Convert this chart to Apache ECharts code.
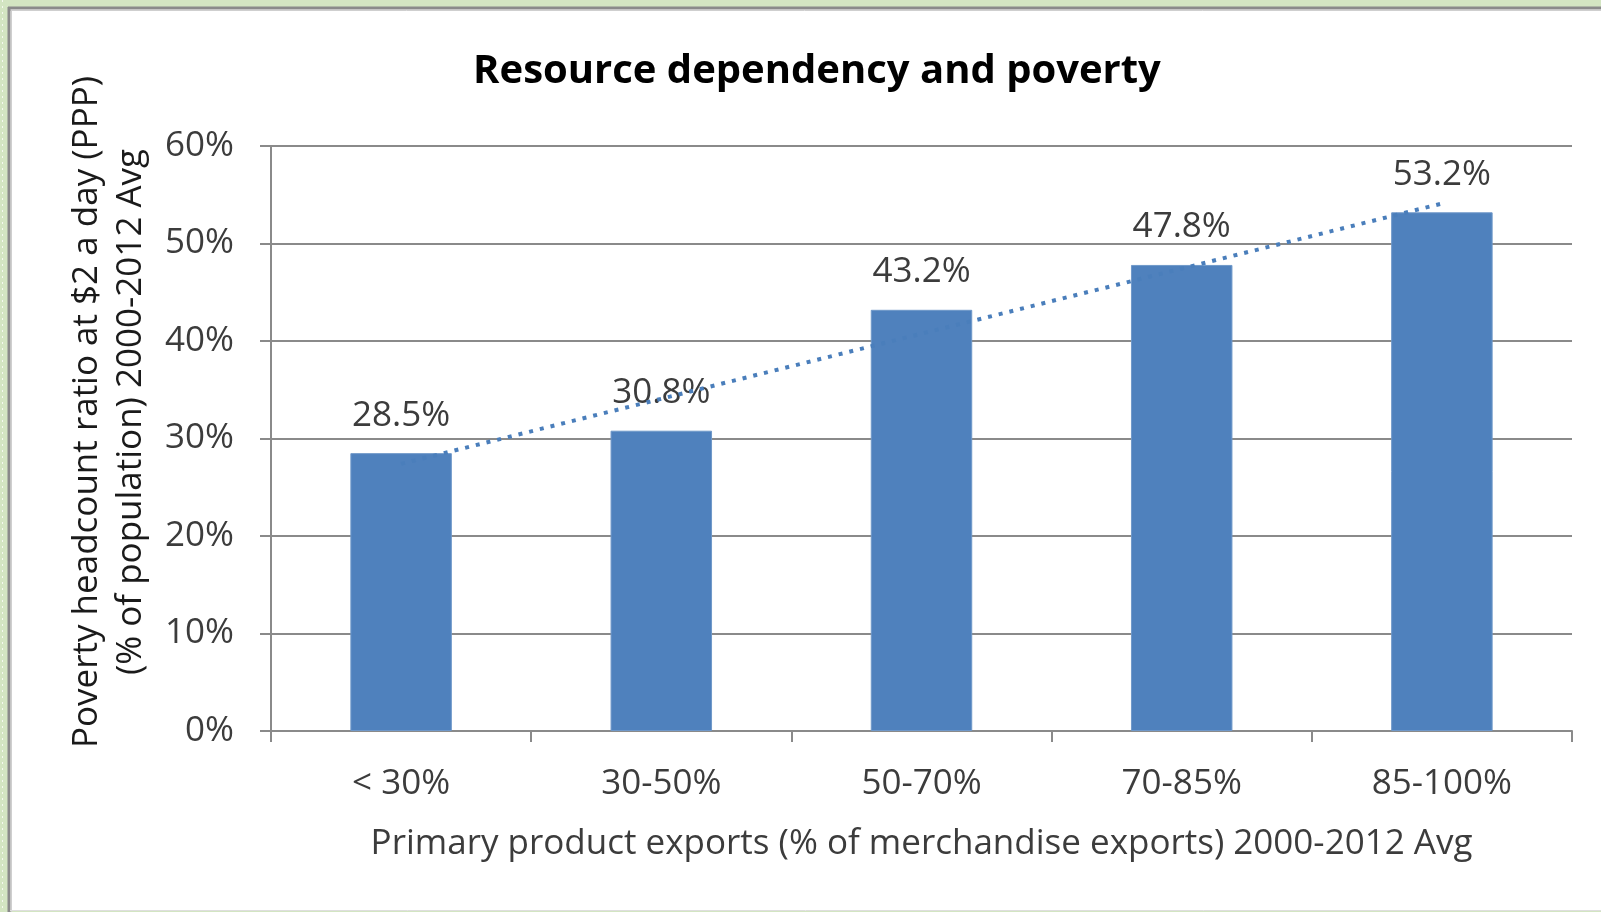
<!DOCTYPE html>
<html>
<head>
<meta charset="utf-8">
<title>Resource dependency and poverty</title>
<script src="https://cdn.jsdelivr.net/npm/echarts@6/dist/echarts.min.js"></script>
<style>
  html, body { margin: 0; padding: 0; background: #d3e5c2; }
  #chart { width: 1601px; height: 912px; }
</style>
</head>
<body>
<div id="chart"></div>
<script>
// Export-share groups and average poverty headcount per group
const categories = ['< 30%', '30-50%', '50-70%', '70-85%', '85-100%'];
const povertyShare = [28.5, 30.8, 43.2, 47.8, 53.2];
// Linear trend, value at the first and last group
const trendEnds = [27.4, 54.1];
// Value axis ticks (percent)
const yMin = 0, yMax = 60, yStep = 10;

const FONT = '"Open Sans", "Noto Sans", sans-serif';
const TEXT = '#3c3c3c';
const GRID = '#8a8a8a';

const trendData = categories.map((c, i) =>
  i === 0 ? trendEnds[0] : (i === categories.length - 1 ? trendEnds[1] : null));

const chart = echarts.init(document.getElementById('chart'));
chart.setOption({
  backgroundColor: '#d3e5c2',
  animation: false,
  title: {
    text: 'Resource dependency and poverty',
    left: 812,
    top: 47,
    textAlign: 'center',
    textStyle: { fontFamily: FONT, fontSize: 40, fontWeight: 'bold', color: '#000' }
  },
  graphic: [
    // white chart sheet with its frame
    { type: 'rect', z: -10, silent: true,
      shape: { x: 9, y: 7, width: 1700, height: 904 },
      style: { fill: '#ffffff' } },
    { type: 'line', z: -9, silent: true,
      shape: { x1: 8, y1: 8, x2: 1601, y2: 8 },
      style: { stroke: '#8a8a8a', lineWidth: 3 } },
    { type: 'line', z: -9, silent: true,
      shape: { x1: 8, y1: 10.5, x2: 1601, y2: 10.5 },
      style: { stroke: '#cfcfcf', lineWidth: 1 } },
    { type: 'line', z: -9, silent: true,
      shape: { x1: 9, y1: 7, x2: 9, y2: 912 },
      style: { stroke: '#8a8a8a', lineWidth: 3 } },
    { type: 'line', z: -9, silent: true,
      shape: { x1: 11.5, y1: 10, x2: 11.5, y2: 912 },
      style: { stroke: '#cfcfcf', lineWidth: 1 } },
    { type: 'line', z: -9, silent: true,
      shape: { x1: 10, y1: 910.5, x2: 1601, y2: 910.5 },
      style: { stroke: '#dedede', lineWidth: 1 } },
    { type: 'line', z: -9, silent: true,
      shape: { x1: 2.5, y1: 0, x2: 2.5, y2: 912 },
      style: { stroke: '#f4f9ef', lineWidth: 1, lineDash: [2, 4] } },
    // value axis title
    { type: 'text', z: 10, silent: true,
      x: 109, y: 412, rotation: Math.PI / 2,
      style: {
        text: 'Poverty headcount ratio at $2 a day (PPP)\n(% of population) 2000-2012 Avg',
        align: 'center', verticalAlign: 'middle',
        fontFamily: FONT, fontSize: 35, lineHeight: 44, fill: '#1a1a1a'
      } }
  ],
  grid: { left: 271, right: 29, top: 146, bottom: 181 },
  xAxis: {
    type: 'category',
    data: categories,
    axisLine: { lineStyle: { color: GRID, width: 2 } },
    axisTick: { show: true, alignWithLabel: false, length: 11, lineStyle: { color: GRID, width: 2 } },
    axisLabel: { color: TEXT, fontFamily: FONT, fontSize: 35, margin: 36 },
    name: 'Primary product exports (% of merchandise exports) 2000-2012 Avg',
    nameLocation: 'middle',
    nameGap: 96,
    nameTextStyle: { color: TEXT, fontFamily: FONT, fontSize: 35 }
  },
  yAxis: {
    type: 'value',
    min: yMin, max: yMax, interval: yStep,
    axisLine: { show: true, lineStyle: { color: GRID, width: 2 } },
    axisTick: { show: true, length: 11, lineStyle: { color: GRID, width: 2 } },
    splitLine: { lineStyle: { color: GRID, width: 2 } },
    axisLabel: { color: TEXT, fontFamily: FONT, fontSize: 35, margin: 37, formatter: '{value}%' }
  },
  series: [
    {
      type: 'bar',
      data: povertyShare,
      barWidth: '39%',
      itemStyle: { color: '#4f81bd', borderColor: '#6f98c9', borderWidth: 1 },
      label: {
        show: true, position: 'top', distance: 20,
        color: TEXT, fontFamily: FONT, fontSize: 35,
        formatter: p => p.value.toFixed(1) + '%'
      },
      z: 2
    },
    {
      type: 'line',
      data: trendData,
      connectNulls: true,
      symbol: 'none',
      lineStyle: { color: '#4a7ebb', width: 4, type: [4, 7], cap: 'butt' },
      z: 5
    }
  ]
});
</script>
</body>
</html>
